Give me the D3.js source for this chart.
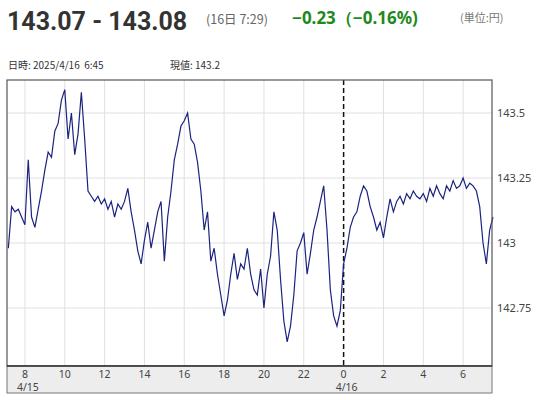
<!DOCTYPE html>
<html><head><meta charset="utf-8">
<script src="https://cdn.jsdelivr.net/npm/d3@7"></script>
<style>body{margin:0;background:#fff;font-family:"Noto Sans CJK JP","Noto Sans",sans-serif}</style>
</head><body><svg id="c" width="537" height="400"></svg>
<script>
// start time (hours from 4/15 00:00) and 10-minute step
const startHour = 7 + 10/60;
const prices = [
 142.98,143.14,143.12,143.13,143.10,
 143.07,143.32,143.10,143.06,143.13,143.20,
 143.28,143.35,143.33,143.43,143.46,143.55,
 143.59,143.40,143.50,143.34,143.42,143.58,
 143.40,143.20,143.18,143.16,143.18,143.15,
 143.17,143.13,143.16,143.10,143.15,143.13,
 143.16,143.21,143.12,143.05,142.97,142.92,
 143.01,143.08,142.98,143.05,143.12,143.16,
 142.93,143.10,143.20,143.32,143.38,143.45,
 143.47,143.50,143.40,143.38,143.31,143.20,
 143.05,143.12,142.93,142.98,142.88,142.80,
 142.72,142.78,142.88,142.96,142.86,142.92,
 142.90,142.98,142.88,142.82,142.80,142.90,
 142.75,142.88,142.95,143.12,143.05,142.86,
 142.70,142.62,142.68,142.80,142.97,143.00,
 143.04,142.88,142.96,143.05,143.10,143.16,
 143.22,143.05,142.82,142.72,142.68,142.74,
 142.92,142.98,143.06,143.10,143.12,143.18,
 143.22,143.20,143.14,143.10,143.05,143.08,
 143.02,143.10,143.17,143.12,143.16,143.18,
 143.15,143.19,143.17,143.20,143.18,143.17,
 143.19,143.16,143.21,143.18,143.22,143.19,
 143.17,143.22,143.20,143.24,143.21,143.22,
 143.25,143.21,143.23,143.22,143.20,143.14,
 143.00,142.92,143.05,143.10
];
const yTicks = [142.75, 143, 143.25, 143.5];
const xTickHours = [8,10,12,14,16,18,20,22,24,26,28,30];
const xTickLabels = ["8","10","12","14","16","18","20","22","0","2","4","6"];
const dateLabels = [{h:8,t:"4/15"},{h:24,t:"4/16"}];

const svg = d3.select("#c");
const L=7,R=492,T=80,B=366;
const x = d3.scaleLinear().domain([7.1,31.45]).range([L,R]);
const y = d3.scaleLinear().domain([142.527,143.627]).range([B,T]);
const data = prices.map((p,i)=>({h:startHour+i/6,p}));

// header
svg.append("text").attr("x",7).attr("y",30).attr("font-size",25).attr("font-weight","bold").attr("fill","#333")
  .attr("font-family","Roboto,'Noto Sans',sans-serif").text("143.07 - 143.08");
svg.append("text").attr("x",206).attr("y",24).attr("font-size",12.5).attr("fill","#666").text("(16日 7:29)");
svg.append("text").attr("x",292).attr("y",24).attr("font-size",17).attr("font-weight","bold").attr("fill","#1e8a1e")
  .attr("font-family","'Noto Sans',sans-serif").text("−0.23（−0.16%)");
svg.append("text").attr("x",460).attr("y",22).attr("font-size",11).attr("fill","#777").text("(単位:円)");
svg.append("text").attr("x",8).attr("y",69).attr("font-size",10).attr("fill","#333").attr("xml:space","preserve").text("日時: 2025/4/16  6:45");
svg.append("text").attr("x",170).attr("y",69).attr("font-size",10).attr("fill","#333").text("現値: 143.2");

// grid
svg.append("g").selectAll("line").data(yTicks).join("line")
  .attr("x1",L).attr("x2",R).attr("y1",d=>y(d)).attr("y2",d=>y(d)).attr("stroke","#e0e0e0");
svg.append("g").selectAll("line").data(xTickHours.filter(h=>h!==24)).join("line")
  .attr("y1",T).attr("y2",B).attr("x1",d=>x(d)).attr("x2",d=>x(d)).attr("stroke","#e0e0e0");
svg.append("line").attr("x1",x(24)).attr("x2",x(24)).attr("y1",T).attr("y2",B)
  .attr("stroke","#111").attr("stroke-width",1.5).attr("stroke-dasharray","5,3");

// line
svg.append("path").datum(data).attr("fill","none").attr("stroke","#1c237f").attr("stroke-width",1.2)
  .attr("d",d3.line().x(d=>x(d.h)).y(d=>y(d.p)));

// borders
svg.append("rect").attr("x",L).attr("y",T).attr("width",R-L).attr("height",B-T).attr("fill","none").attr("stroke","#555").attr("stroke-width",1.2);
svg.append("rect").attr("x",L).attr("y",B).attr("width",R-L).attr("height",27).attr("fill","#ededed").attr("stroke","#777");
svg.append("line").attr("x1",L).attr("x2",R).attr("y1",B).attr("y2",B).attr("stroke","#333").attr("stroke-width",1.5);

// right axis
svg.append("g").selectAll("text").data(yTicks).join("text")
  .attr("x",497).attr("y",d=>y(d)+4).attr("font-size",11).attr("fill","#444").attr("font-family","'Noto Sans',sans-serif").text(d=>d);
// bottom axis
svg.append("g").selectAll("text").data(xTickHours).join("text")
  .attr("x",d=>x(d)).attr("y",378).attr("text-anchor","middle").attr("font-size",10.5).attr("fill","#444")
  .attr("font-family","'Noto Sans',sans-serif").text((d,i)=>xTickLabels[i]);
svg.append("g").selectAll("text").data(dateLabels).join("text")
  .attr("x",d=>x(d.h)+3).attr("y",391).attr("text-anchor","middle").attr("font-size",10.5).attr("fill","#444")
  .attr("font-family","'Noto Sans',sans-serif").text(d=>d.t);
</script></body></html>
